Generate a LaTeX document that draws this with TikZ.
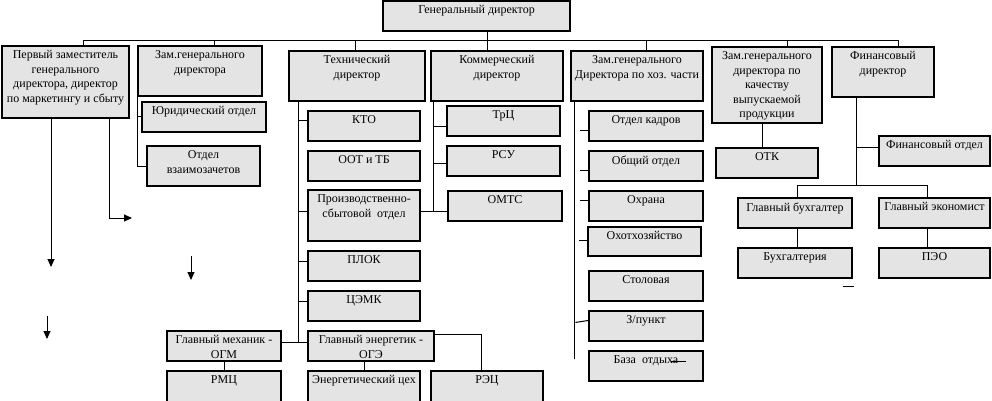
\documentclass[tikz,border=0pt]{standalone}
\usepackage{fontspec}
\setmainfont{Liberation Serif}
\usepackage{tikz}
\usetikzlibrary{arrows.meta, positioning, calc}
\definecolor{boxfill}{RGB}{228,228,228}

\begin{document}
\begin{tikzpicture}[x=1pt, y=-1pt, >={Triangle[length=8pt, width=7pt]},
    unit/.style={draw, line width=1.1pt, fill=boxfill, inner sep=0pt},
    lbl/.style={anchor=north, yshift=-5pt, align=center, inner sep=0pt, font=\fontsize{12}{14.5}\selectfont},
    link/.style={line width=1pt}]
      \clip (0,0) rectangle (992,401);

      % top level
      \node[unit, minimum width=187pt, minimum height=30pt, label={[lbl]north:{Генеральный директор}}] (gen) at (476.5,16) {};
      \node[unit, minimum width=127pt, minimum height=72pt, label={[lbl]north:{Первый заместитель\\генерального\\директора, директор\\по маркетингу и сбыту}}] (first) at (65.5,82) {};
      \node[unit, minimum width=124pt, minimum height=50pt, label={[lbl]north:{Зам.генерального\\директора}}] (dep) at (200,71) {};
      \node[unit, minimum width=136pt, minimum height=50pt, label={[lbl]north:{Технический\\директор}}] (tech) at (357,76) {};
      \node[unit, minimum width=132pt, minimum height=50pt, label={[lbl]north:{Коммерческий\\директор}}] (comm) at (497,76) {};
      \node[unit, minimum width=132pt, minimum height=50pt, label={[lbl]north:{Зам.генерального\\Директора по хоз. части}}] (hoz) at (637,76) {};
      \node[unit, minimum width=110pt, minimum height=76pt, label={[lbl]north:{Зам.генерального\\директора по\\качеству\\выпускаемой\\продукции}}] (qual) at (767,85) {};
      \node[unit, minimum width=102pt, minimum height=50pt, label={[lbl]north:{Финансовый\\директор}}] (fin) at (883,72) {};

      % departments
      \node[unit, minimum width=124pt, minimum height=30pt, label={[lbl]north:{Юридический отдел}}] (law) at (204,117) {};
      \node[unit, minimum width=113pt, minimum height=40pt, label={[lbl]north:{Отдел\\взаимозачетов}}] (vz) at (203.5,166) {};

      \node[unit, minimum width=112pt, minimum height=30pt, label={[lbl]north:{КТО}}] (kto) at (364,126) {};
      \node[unit, minimum width=112pt, minimum height=30pt, label={[lbl]north:{ООТ и ТБ}}] (oot) at (364,166) {};
      \node[unit, minimum width=112pt, minimum height=51pt, label={[lbl]north:{Производственно-\\сбытовой~~отдел}}] (psd) at (364,215.5) {};
      \node[unit, minimum width=112pt, minimum height=30pt, label={[lbl]north:{ПЛОК}}] (plok) at (364,266) {};
      \node[unit, minimum width=112pt, minimum height=30pt, label={[lbl]north:{ЦЭМК}}] (cemk) at (364,306) {};
      \node[unit, minimum width=114pt, minimum height=30pt, label={[lbl]north:{Главный механик -\\ОГМ}}] (mech) at (224,346) {};
      \node[unit, minimum width=126pt, minimum height=30pt, label={[lbl]north:{Главный энергетик -\\ОГЭ}}] (energ) at (371,346) {};
      \node[unit, minimum width=114pt, minimum height=40pt, label={[lbl]north:{РМЦ}}] (rmc) at (224,391) {};
      \node[unit, minimum width=112pt, minimum height=40pt, label={[lbl]north:{Энергетический цех}}] (ecex) at (364,391) {};
      \node[unit, minimum width=112pt, minimum height=40pt, label={[lbl]north:{РЭЦ}}] (rec) at (487,391) {};

      \node[unit, minimum width=113pt, minimum height=30pt, label={[lbl]north:{ТрЦ}}] (trc) at (503.5,121) {};
      \node[unit, minimum width=113pt, minimum height=30pt, label={[lbl]north:{РСУ}}] (rsu) at (503.5,161) {};
      \node[unit, minimum width=114pt, minimum height=30pt, label={[lbl]north:{ОМТС}}] (omts) at (505,206) {};

      \node[unit, minimum width=114pt, minimum height=30pt, label={[lbl]north:{Отдел кадров}}] (kadr) at (646,126) {};
      \node[unit, minimum width=114pt, minimum height=30pt, label={[lbl]north:{Общий отдел}}] (obsh) at (646,166) {};
      \node[unit, minimum width=114pt, minimum height=30pt, label={[lbl]north:{Охрана}}] (ohr) at (646,206) {};
      \node[unit, minimum width=113pt, minimum height=29pt, label={[lbl]north:{Охотхозяйство}}] (oxot) at (644.5,241.5) {};
      \node[unit, minimum width=114pt, minimum height=30pt, label={[lbl]north:{Столовая}}] (stol) at (646,286) {};
      \node[unit, minimum width=114pt, minimum height=30pt, label={[lbl]north:{З/пункт}}] (zpunkt) at (646,326) {};
      \node[unit, minimum width=114pt, minimum height=30pt, label={[lbl]north:{База~~отдыха}}] (baza) at (646,366) {};

      \node[unit, minimum width=102pt, minimum height=30pt, label={[lbl]north:{ОТК}}] (otk) at (767,163) {};
      \node[unit, minimum width=111pt, minimum height=30pt, label={[lbl]north:{Финансовый отдел}}] (finotd) at (934.5,151) {};
      \node[unit, minimum width=114pt, minimum height=30pt, label={[lbl]north:{Главный бухгалтер}}] (buh) at (795,213) {};
      \node[unit, minimum width=111pt, minimum height=30pt, label={[lbl]north:{Главный экономист}}] (econ) at (934.5,213) {};
      \node[unit, minimum width=114pt, minimum height=30pt, label={[lbl]north:{Бухгалтерия}}] (buhg) at (795,263) {};
      \node[unit, minimum width=111pt, minimum height=30pt, label={[lbl]north:{ПЭО}}] (peo) at (934.5,263) {};

      % top bus
      \coordinate (bus) at (0,41);
      \coordinate (b1) at ([xshift=17.5pt]first.north);
      \coordinate (b7) at ([xshift=15pt]fin.north);
      \draw[link] (b1) -- (b1 |- bus) -- (b7 |- bus) -- (b7);
      \draw[link] ([xshift=10.5pt]gen.south) -- ([xshift=-10pt]comm.north);
      \foreach \n/\dx in {dep/14, tech/-2, hoz/9, qual/20} {
        \coordinate (t) at ([xshift=\dx pt]\n.north);
        \draw[link] (t) -- (t |- bus);
      }

      % first deputy
      \coordinate (a1) at (51,267);
      \coordinate (a2) at (132,218);
      \coordinate (a3s) at (191,256);
      \coordinate (a3) at (191,280);
      \coordinate (a4s) at (47,316);
      \coordinate (a4) at (47,339);
      \draw[link, ->] ([xshift=-14.5pt]first.south) -- (a1);
      \draw[link, ->] ([xshift=43.5pt]first.south) |- (a2);
      \draw[link, ->] (a3s) -- (a3);
      \draw[link, ->] (a4s) -- (a4);

      % deputy
      \draw[link] (dep.south west) |- (vz.west);
      \draw[link] (dep.south west |- law.west) -- (law.west);

      % technical
      \coordinate (tl) at ([xshift=10pt]tech.south west);
      \coordinate (me) at ([yshift=4pt]energ.west);
      \draw[link] (tl) -- (tl |- me);
      \draw[link] ([yshift=4pt]mech.east) -- (me);
      \foreach \n/\dy in {kto/10, psd/22, plok/11, cemk/11} {
        \coordinate (p) at ([yshift=-\dy pt]\n.north west);
        \draw[link] (tl |- p) -- (p);
      }
      \draw[link] (mech.south) -- (rmc.north);
      \draw[link] (ecex.north) -- (ecex.north |- energ.south);
      \draw[link] ([yshift=-4pt]energ.north east) -| ([xshift=-6pt]rec.north);

      % commercial
      \coordinate (cl) at ([xshift=3pt]comm.south west);
      \coordinate (om) at ([yshift=-21pt]omts.north west);
      \draw[link] (cl) -- (cl |- om);
      \draw[link] ([yshift=-22pt]psd.north east) -- (om);
      \foreach \n/\dy in {trc/21, rsu/18} {
        \coordinate (p) at ([yshift=-\dy pt]\n.north west);
        \draw[link] (cl |- p) -- (p);
      }

      % household
      \coordinate (hl) at ([xshift=4pt]hoz.south west);
      \coordinate (he) at ([yshift=-9pt]baza.north west);
      \draw[link] (hl) -- (hl |- he);
      \foreach \n/\dy in {kadr/20, obsh/20, ohr/10, oxot/14} {
        \draw[link] ([xshift=-8pt, yshift=-\dy pt]\n.north west) -- ([yshift=-\dy pt]\n.north west);
      }
      \draw[link] ([xshift=-13pt, yshift=-12pt]zpunkt.north west) -- ([yshift=-10pt]zpunkt.north west);
      \draw[link] ([xshift=83pt, yshift=-11pt]baza.north west) -- ++(15pt,0);

      % quality
      \draw[link] ([xshift=-5pt]qual.south) -- ([xshift=-5pt]otk.north);

      % finance
      \coordinate (fl) at ([xshift=-27pt]fin.south);
      \coordinate (fb) at ([xshift=2pt, yshift=12pt]buh.north);
      \coordinate (fe) at ([xshift=-7.5pt, yshift=12pt]econ.north);
      \coordinate (fo) at ([yshift=-12pt]finotd.north west);
      \draw[link] (fl) -- (fl |- fb);
      \draw[link] (fl |- fo) -- (fo);
      \draw[link] ([xshift=2pt]buh.north) -- (fb) -- (fe) -- ([xshift=-7.5pt]econ.north);
      \draw[link] ([xshift=2pt]buh.south) -- ([xshift=2pt]buhg.north);
      \draw[link] ([xshift=-7.5pt]econ.south) -- ([xshift=-7.5pt]peo.north);
      \draw[link] ([xshift=-10pt, yshift=-8pt]buhg.south east) -- ++(11pt,0);

    \end{tikzpicture}
\end{document}
